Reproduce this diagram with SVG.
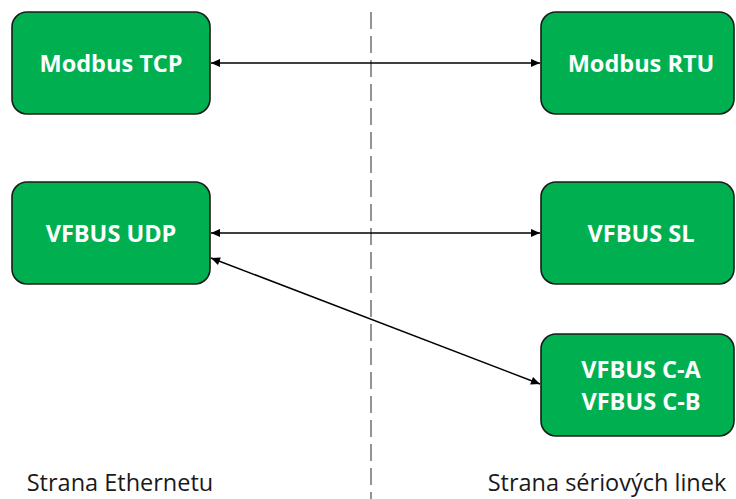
<svg xmlns="http://www.w3.org/2000/svg" width="736" height="499" viewBox="0 0 736 499">
<defs>
<style>
.box{fill:#00B050;stroke:#1a1a1a;stroke-width:1.6}
.lbl{font-family:"Open Sans","Liberation Sans",sans-serif;font-weight:700;font-size:23.5px;fill:#ffffff;text-anchor:middle}
.side{font-family:"Open Sans","Liberation Sans",sans-serif;font-size:23.5px;fill:#1a1a1a;text-anchor:middle}
.con{stroke:#000;stroke-width:1.6;fill:none;marker-start:url(#ah);marker-end:url(#ah)}
</style>
<marker id="ah" viewBox="0 0 10 10" refX="10" refY="5" markerWidth="10" markerHeight="9" markerUnits="userSpaceOnUse" orient="auto-start-reverse">
<path d="M0,0.5 L10,5 L0,9.5 Z" fill="#000"/>
</marker>
</defs>
<rect width="736" height="499" fill="#ffffff"/>
<line x1="371" y1="12" x2="371" y2="499" stroke="#7a7a7a" stroke-width="1.6" stroke-dasharray="17,7"/>
<g id="connectors">
<line class="con" x1="211" y1="63" x2="540" y2="63"/>
<line class="con" x1="211" y1="233" x2="540" y2="233"/>
<line class="con" x1="211" y1="258" x2="540" y2="384"/>
</g>
<g id="modbus-tcp">
<rect class="box" x="12" y="12" width="198" height="102" rx="15"/>
<text class="lbl" x="111" y="72">Modbus TCP</text>
</g>
<g id="modbus-rtu">
<rect class="box" x="541" y="12" width="193" height="102" rx="15"/>
<text class="lbl" x="641" y="72">Modbus RTU</text>
</g>
<g id="vfbus-udp">
<rect class="box" x="12" y="182" width="198" height="102" rx="15"/>
<text class="lbl" x="111" y="242">VFBUS UDP</text>
</g>
<g id="vfbus-sl">
<rect class="box" x="541" y="182" width="193" height="102" rx="15"/>
<text class="lbl" x="641" y="242">VFBUS SL</text>
</g>
<g id="vfbus-c">
<rect class="box" x="541" y="334" width="193" height="102" rx="15"/>
<text class="lbl" x="641" y="378">VFBUS C-A</text>
<text class="lbl" x="641" y="410">VFBUS C-B</text>
</g>
<g id="labels">
<text class="side" x="120" y="491">Strana Ethernetu</text>
<text class="side" x="607" y="491">Strana sériových linek</text>
</g>
</svg>
